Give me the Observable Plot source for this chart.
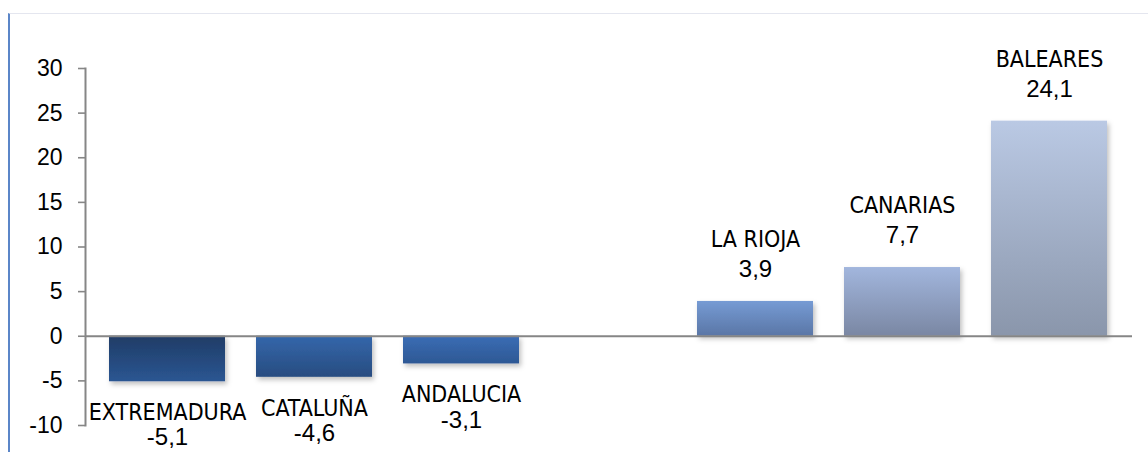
<!DOCTYPE html>
<html>
<head>
<meta charset="utf-8">
<script src="https://cdn.jsdelivr.net/npm/d3@7"></script>
<script src="https://cdn.jsdelivr.net/npm/@observablehq/plot@0.6"></script>
<style>
  html, body { margin: 0; padding: 0; background: #fff; }
  #wrap { position: relative; width: 1148px; height: 452px; overflow: hidden; }
  #frame { position: absolute; left: 8px; top: 13px; right: 0; bottom: -5px;
           border-left: 2px solid #5b86c8; border-top: 1px solid #e4e6ef; }
  #chart { position: absolute; left: 0; top: 0; }
</style>
</head>
<body>
<div id="wrap"><div id="frame"></div><div id="chart"></div></div>
<script>
const categories = ["EXTREMADURA", "CATALUÑA", "ANDALUCIA", "", "LA RIOJA", "CANARIAS", "BALEARES"];
const values     = [-5.1, -4.6, -3.1, null, 3.9, 7.7, 24.1];
const yTicks     = [-10, -5, 0, 5, 10, 15, 20, 25, 30];
const gradTop    = ["#1f3c66", "#3467ab", "#3b6db5", null, "#769bd4", "#a2b6dd", "#bac9e4"];
const gradBottom = ["#2b5692", "#284c80", "#2d5894", null, "#5a76a6", "#7a87a3", "#8a96ab"];

const data = categories.map((c, i) => ({cat: c, value: values[i], idx: i}))
  .filter(d => d.value !== null);
const pos = data.filter(d => d.value > 0);
const neg = data.filter(d => d.value < 0);
const fmt = v => String(v).replace(".", ",");
const font = "'Liberation Sans', Arial, sans-serif";
const narrow = "'Liberation Sans Narrow', 'DejaVu Sans Condensed', 'Liberation Sans', sans-serif";

const chart = Plot.plot({
  width: 1148,
  height: 452,
  marginLeft: 85,
  marginRight: 16,
  marginTop: 68,
  marginBottom: 27,
  style: {fontFamily: font, fontSize: "23px", color: "#000", background: "transparent", overflow: "visible"},
  x: {domain: categories, paddingInner: 0.21, paddingOuter: 0.105, insetLeft: 8, insetRight: 9, axis: null},
  y: {domain: [-10, 30], label: null},
  color: {type: "identity"},
  marks: [
    Plot.axisY({ticks: yTicks, label: null, tickSize: 7, tickPadding: 16, stroke: "#868686", strokeWidth: 1.6, fontSize: 23, fill: "#000", tickFormat: d => String(d)}),
    Plot.frame({anchor: "left", stroke: "#868686", strokeWidth: 2}),
    Plot.barY(data, {x: "cat", y: "value", fill: d => `url(#g${d.idx})`}),
    Plot.ruleY([0], {stroke: "#868686", strokeWidth: 2}),
    Plot.text(pos, {x: "cat", y: "value", text: "cat", dy: -62, fill: "#000", fontSize: 23, fontFamily: narrow}),
    Plot.text(pos, {x: "cat", y: "value", text: d => fmt(d.value), dy: -32, fill: "#000", fontSize: 24}),
    Plot.text(neg, {x: "cat", y: "value", text: "cat", dy: 31, fill: "#000", fontSize: 23, fontFamily: narrow}),
    Plot.text(neg, {x: "cat", y: "value", text: d => fmt(d.value), dy: 56, fill: "#000", fontSize: 24})
  ]
});

const svg = d3.select(chart);
const defs = svg.insert("defs", ":first-child");
categories.forEach((c, i) => {
  if (gradTop[i] === null) return;
  const g = defs.append("linearGradient").attr("id", "g" + i)
    .attr("x1", 0).attr("y1", 0).attr("x2", 0).attr("y2", 1);
  g.append("stop").attr("offset", "0%").attr("stop-color", gradTop[i]);
  g.append("stop").attr("offset", "100%").attr("stop-color", gradBottom[i]);
});
const f = defs.append("filter").attr("id", "shadow").attr("x", "-10%").attr("y", "-10%").attr("width", "130%").attr("height", "130%");
f.append("feDropShadow").attr("dx", 2).attr("dy", 3).attr("stdDeviation", 2.5).attr("flood-color", "#000").attr("flood-opacity", 0.25);
svg.selectAll("g[aria-label='bar']").attr("filter", "url(#shadow)");

document.getElementById("chart").appendChild(chart);
</script>
</body>
</html>
